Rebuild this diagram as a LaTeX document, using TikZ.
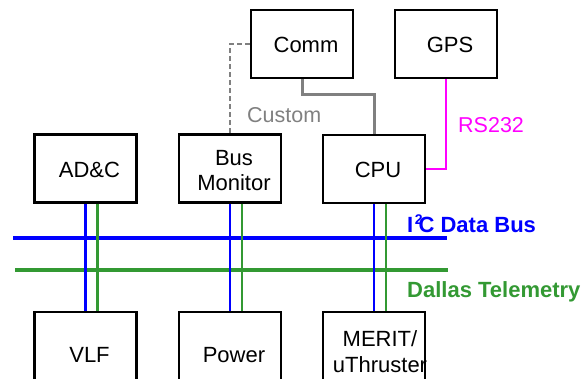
\documentclass[tikz,border=0pt]{standalone}
\usepackage{fontspec}
\setmainfont{Liberation Sans}
\definecolor{busblue}{RGB}{0,0,255}
\definecolor{busgreen}{RGB}{51,153,51}
\definecolor{linkgray}{RGB}{128,128,128}
\definecolor{serialpink}{RGB}{255,0,255}
\begin{document}
\begin{tikzpicture}[x=1pt,y=-1pt,
  box/.style={draw=black,line width=2.1pt,minimum width=102pt,minimum height=68pt,inner sep=0pt},
  tallbox/.style={box,minimum height=84pt},
  lbl/.style={font=\fontsize{22}{25}\selectfont,align=center,inner sep=0pt,xshift=4pt,yshift=-1pt},
  buslbl/.style={font=\fontsize{22}{25}\selectfont\bfseries,anchor=base west,inner sep=0pt},
  note/.style={font=\fontsize{21.5}{25}\selectfont,anchor=base west,inner sep=0pt},
  bus/.style={line width=4.2pt},
  drop/.style={line width=2.2pt}]
\useasboundingbox (0,0) rectangle (586,378);
\clip (0,0) rectangle (586,378);

% boxes
\node[box,label={[lbl]center:Comm}] (comm) at (302,44) {};
\node[box,label={[lbl]center:GPS}] (gps) at (446,44) {};
\node[box,label={[lbl]center:AD\&C}] (adc) at (85.5,168.5) {};
\node[box,label={[lbl,yshift=-1pt]center:Bus\\Monitor}] (busmon) at (230,168.5) {};
\node[box,label={[lbl]center:CPU}] (cpu) at (374,169) {};
\node[tallbox,label={[lbl]center:VLF}] (vlf) at (85.5,354) {};
\node[tallbox,label={[lbl]center:Power}] (power) at (230,354) {};
\node[tallbox,label={[lbl,xshift=2pt,yshift=3pt,font=\fontsize{22}{26}\selectfont]center:MERIT/\\uThruster}] (merit) at (374,354) {};

% links between the upper boxes
\draw[linkgray,line width=3pt] (comm.south) -- ++(0,15) -| (cpu.north);
\draw[linkgray,line width=2.7pt,dash pattern=on 5pt off 3pt] (comm.west) -| (busmon.north);
\draw[serialpink,line width=2.3pt] (gps.south) |- (cpu.east);
\node[note,text=linkgray] (custom) at (247,122) {Custom};
\node[note,text=serialpink] (rs) at (458,132) {RS232};

% buses
\coordinate (i2cL) at (13,238);
\coordinate (i2cR) at (447,238);
\coordinate (dalL) at (15,270);
\coordinate (dalR) at (448,270);
\draw[bus,busblue] (i2cL) -- (i2cR);
\draw[bus,busgreen] (dalL) -- (dalR);
\node[buslbl,text=busblue] (i2clbl) at (407,232) {I\kern1.5pt\raisebox{8pt}{\fontsize{14}{14}\selectfont 2}\kern-4pt C Data Bus};
\node[buslbl,text=busgreen] (dallbl) at (407,297) {Dallas Telemetry};

% bus drops
\foreach \u/\l in {adc/vlf,busmon/power,cpu/merit}{
  \draw[drop,busblue] (\u.south) -- (\l.north);
  \draw[drop,busgreen] ([xshift=12pt]\u.south) -- ([xshift=12pt]\l.north);
}
\end{tikzpicture}
\end{document}
